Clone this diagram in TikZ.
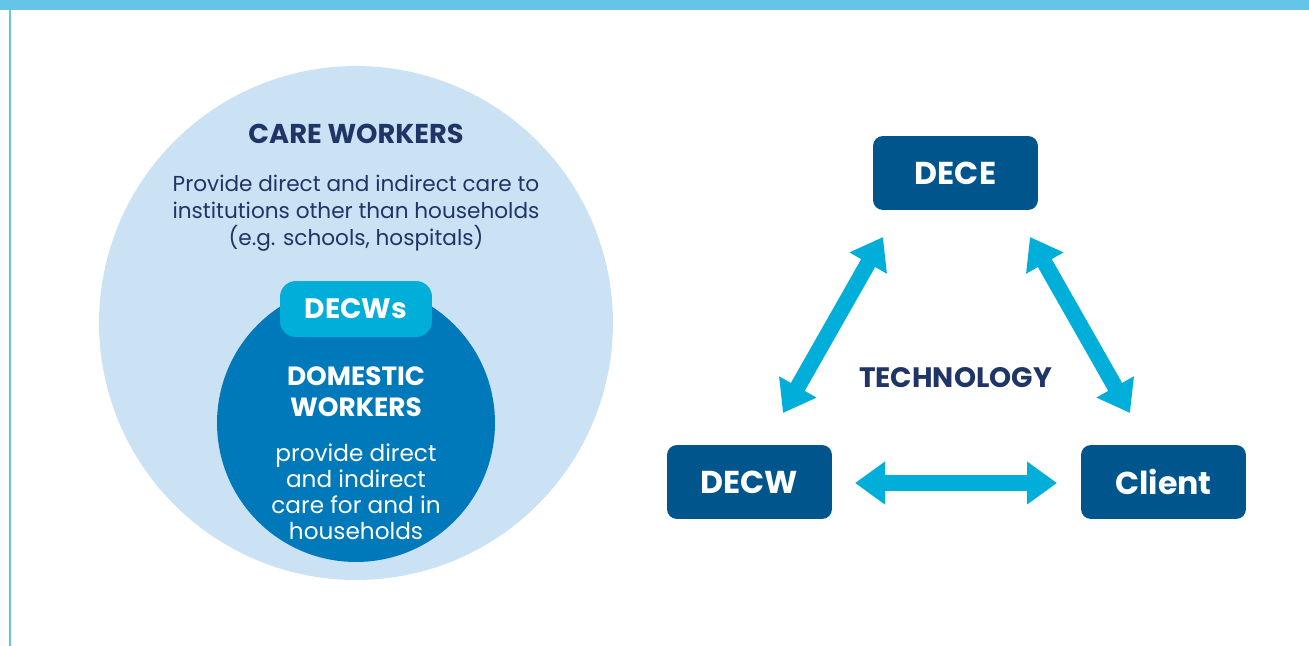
\documentclass[tikz,border=0pt]{standalone}
\usepackage{fontspec}
\setmainfont{Poppins}
\usetikzlibrary{arrows.meta, positioning}
\definecolor{navy}{HTML}{1F3566}
\definecolor{boxblue}{HTML}{00558C}
\definecolor{skyblue}{HTML}{00AEDA}
\definecolor{paleblue}{HTML}{CAE2F4}
\definecolor{midblue}{HTML}{0079BA}
\definecolor{framebar}{HTML}{66C5E6}
\tikzset{
    actor/.style = {rectangle, rounded corners=0.2cm, fill=boxblue, text=white,
                    minimum width=3.3cm, minimum height=1.48cm,
                    font=\fontsize{18}{21}\selectfont\bfseries},
    tag/.style = {rectangle, rounded corners=0.32cm, fill=skyblue, text=white,
                  minimum width=3.04cm, minimum height=1.12cm,
                  font=\fontsize{16}{19}\selectfont\bfseries},
    ring/.style = {circle, inner sep=0pt},
    heading/.style = {text=navy, font=\fontsize{15.5}{18}\selectfont\bfseries},
    blurb/.style = {align=center, inner sep=0pt},
    link/.style = {line width=0.32cm, draw=skyblue,
                   {Triangle[width=0.82cm,length=0.6cm]}-{Triangle[width=0.82cm,length=0.6cm]}}
    }

\begin{document}
\begin{tikzpicture}[
      x = 0.02cm, y = -0.02cm % one unit is one pixel
    ]
    \useasboundingbox (0,0) rectangle (1309,646);

    % frame
    \fill[framebar] (0,0) rectangle (1309,10);
    \draw[framebar, line width=0.05cm] (10,10) -- (10,646);

    % left: circles
    \node[ring, fill=paleblue, minimum size=10.28cm] (care) at (356,323) {};
    \node[ring, fill=midblue, minimum size=5.56cm] (domestic) at (356,423) {};

    \node[heading] (careTitle) at (356,134) {CARE WORKERS};
    \node[blurb, text=navy, font=\fontsize{12.3}{15.4}\selectfont] (careText) at (356,213)
        {Provide direct and indirect care to\\institutions other than households\\(e.g. schools, hospitals)};

    \node[tag] (decws) at (356,309) {DECWs};
    \node[blurb, text=white, font=\fontsize{15}{17.6}\selectfont\bfseries] (domTitle) at (356,392)
        {DOMESTIC\\WORKERS};
    \node[blurb, text=white, font=\fontsize{13.2}{14.8}\selectfont] (domText) at (356,492)
        {provide direct\\and indirect\\care for and in\\households};

    % right: triangle
    \node[actor] (dece) at (955.5,173) {DECE};
    \node[actor] (decw) at (749.5,482) {DECW};
    \node[actor] (client) at (1163.5,482) {Client};
    \node[heading, font=\fontsize{16}{19}\selectfont\bfseries] (tech) at (955.5,378) {TECHNOLOGY};

    \coordinate (leftLow) at (783,413);
    \coordinate (leftHigh) at (883,237);
    \coordinate (rightHigh) at (1030,237);
    \coordinate (rightLow) at (1130,413);
    \coordinate (midLeft) at (855,483);
    \coordinate (midRight) at (1057,483);

    \draw[link] (leftLow) -- (leftHigh);
    \draw[link] (rightHigh) -- (rightLow);
    \draw[link] (midLeft) -- (midRight);
\end{tikzpicture}
\end{document}
